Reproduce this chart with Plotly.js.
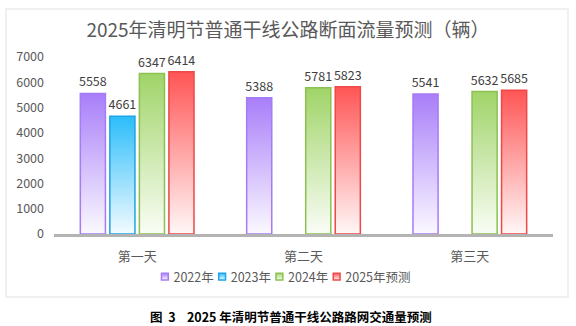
<!DOCTYPE html>
<html>
<head>
<meta charset="utf-8">
<script src="https://cdn.plot.ly/plotly-3.0.1.min.js"></script>
<style>
  html, body { margin: 0; padding: 0; background: #ffffff; }
  #frame { position: absolute; left: 5px; top: 8px; width: 560px; height: 286px; border: 2px solid #f0f0f0; }
  #chart { position: absolute; left: 0; top: 0; width: 576px; height: 326px; }
</style>
</head>
<body>
<div id="frame"></div>
<div id="chart"></div>
<script>
const categories = ['第一天', '第二天', '第三天'];
const seriesNames = ['2022年', '2023年', '2024年', '2025年预测'];
const values2022 = [5558, 5388, 5541];
const values2023 = [4661, null, null];
const values2024 = [6347, 5781, 5632];
const values2025 = [6414, 5823, 5685];
const yTicks = [0, 1000, 2000, 3000, 4000, 5000, 6000, 7000];

const topColors = ['#a87ef9', '#2bbdfa', '#a0d468', '#ff5555'];
const bottomColors = ['#fbf9ff', '#f4fbff', '#fafdf6', '#fff7f7'];
const lineColors = ['#a67cf6', '#1ea3e6', '#8cc152', '#ee4848'];

const seriesValues = [values2022, values2023, values2024, values2025];
const FONT = '"Noto Sans CJK SC", "Noto Sans", sans-serif';

const traces = seriesValues.map((vals, i) => ({
  type: 'bar',
  name: seriesNames[i],
  x: categories,
  y: vals,
  text: vals.map(v => v == null ? '' : String(v)),
  textposition: 'outside',
  cliponaxis: false,
  constraintext: 'none',
  textfont: { family: FONT, size: 12.5, color: '#404040' },
  marker: { color: topColors[i], line: { color: lineColors[i], width: 1.5 } },
  hoverinfo: 'skip'
}));

const layout = {
  width: 576, height: 326,
  margin: { l: 54, r: 23, t: 57, b: 92 },
  paper_bgcolor: 'rgba(0,0,0,0)',
  plot_bgcolor: 'rgba(0,0,0,0)',
  font: { family: FONT, color: '#595959' },
  title: {
    text: '2025年清明节普通干线公路断面流量预测（辆）',
    font: { family: FONT, size: 19, color: '#595959' },
    x: 0.5, xref: 'container', xanchor: 'center',
    y: 1 - 30 / 326, yref: 'container', yanchor: 'middle'
  },
  barmode: 'group',
  bargap: 0.29,
  bargroupgap: 0.15,
  xaxis: {
    type: 'category',
    showgrid: false, zeroline: false,
    showline: true, linecolor: '#b3b3b3', linewidth: 3,
    ticks: '',
    ticklabelstandoff: 8,
    tickfont: { family: FONT, size: 13, color: '#595959' }
  },
  yaxis: {
    range: [0, 7000],
    tickvals: yTicks,
    ticktext: yTicks.map(String),
    showgrid: false, zeroline: false, showline: false,
    ticks: '',
    ticklabelstandoff: 9,
    tickfont: { family: FONT, size: 12.5, color: '#595959' }
  },
  showlegend: true,
  legend: {
    orientation: 'h',
    x: 0.5, xanchor: 'center',
    y: (234 - 277) / 177, yanchor: 'middle',
    font: { family: FONT, size: 12.5, color: '#595959' },
    bgcolor: 'rgba(0,0,0,0)',
    traceorder: 'normal'
  },
  annotations: [{
    text: '<b>图  3    2025 年清明节普通干线公路路网交通量预测</b>',
    xref: 'paper', yref: 'paper',
    x: (290.5 - 54) / 499, y: (234 - 316) / 177,
    xanchor: 'center', yanchor: 'middle',
    showarrow: false,
    font: { family: FONT, size: 12.5, color: '#000000' }
  }]
};

const gd = document.getElementById('chart');

function applyStyling() {
  const svg = gd.querySelector('svg.main-svg');
  const NS = 'http://www.w3.org/2000/svg';
  let defs = svg.querySelector('defs');
  if (!defs) { defs = document.createElementNS(NS, 'defs'); svg.insertBefore(defs, svg.firstChild); }
  topColors.forEach((c, i) => {
    const g = document.createElementNS(NS, 'linearGradient');
    g.setAttribute('id', 'bargrad' + i);
    g.setAttribute('x1', '0'); g.setAttribute('y1', '0');
    g.setAttribute('x2', '0'); g.setAttribute('y2', '1');
    const s1 = document.createElementNS(NS, 'stop');
    s1.setAttribute('offset', '0'); s1.setAttribute('stop-color', c);
    const s2 = document.createElementNS(NS, 'stop');
    s2.setAttribute('offset', '1'); s2.setAttribute('stop-color', bottomColors[i]);
    g.appendChild(s1); g.appendChild(s2);
    defs.appendChild(g);
  });
  gd.querySelectorAll('.barlayer .trace').forEach((t, i) => {
    t.querySelectorAll('.point path').forEach(p => { p.style.fill = 'url(#bargrad' + i + ')'; });
  });
  const items = Array.from(gd.querySelectorAll('.legend .traces'));
  if (!items.length) return;
  const parent = items[0].parentNode;
  const parentE = parent.getCTM().e;
  const sq = 3.4;
  const widths = items.map(it => it.querySelector('text.legendtext').getComputedTextLength());
  const total = widths.reduce((a, w) => a + 12 + w + 5, 0) - 5;
  let x = 286 - total / 2;
  items.forEach((it, i) => {
    const tr = it.getAttribute('transform') || '';
    const m = tr.match(/translate\(\s*([-\d.e]+)[ ,]+([-\d.e]+)\s*\)/);
    const ty = m ? parseFloat(m[2]) : 0;
    it.setAttribute('transform', 'translate(' + (x - parentE) + ',' + ty + ')');
    const txt = it.querySelector('text.legendtext');
    txt.setAttribute('x', 12);
    txt.querySelectorAll('tspan').forEach(ts => { if (ts.hasAttribute('x')) ts.setAttribute('x', 12); });
    const path = it.querySelector('.legendpoints path');
    if (path) {
      path.setAttribute('d', 'M' + sq + ',' + sq + 'H-' + sq + 'V-' + sq + 'H' + sq + 'Z');
      path.style.fill = 'url(#bargrad' + i + ')';
      const curE = path.getCTM().e - it.getCTM().e;
      const dx = 3.4 - curE;
      path.setAttribute('transform', 'translate(' + dx + ',0) ' + (path.getAttribute('transform') || ''));
    }
    x += 12 + widths[i] + 5;
  });
}

Plotly.newPlot(gd, traces, layout, { staticPlot: true, displayModeBar: false }).then(applyStyling);
</script>
</body>
</html>
